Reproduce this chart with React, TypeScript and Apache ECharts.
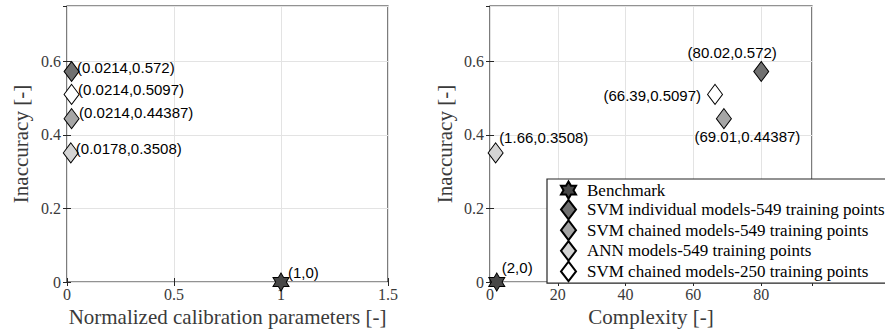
import React, { useEffect, useRef } from 'react';
import * as echarts from 'echarts';

const seriesNames = [
  'Benchmark',
  'SVM individual models-549 training points',
  'SVM chained models-549 training points',
  'ANN models-549 training points',
  'SVM chained models-250 training points',
];
const calibParams = [1, 0.0214, 0.0214, 0.0178, 0.0214];
const complexity = [2, 80.02, 69.01, 1.66, 66.39];
const inaccuracy = [0, 0.572, 0.44387, 0.3508, 0.5097];

const fillColors = ['#474747', '#707070', '#a6a6a6', '#d4d4d4', '#ffffff'];
const HEX = 'path://M50 0 L64.43 25 L93.3 25 L78.87 50 L93.3 75 L64.43 75 L50 100 L35.57 75 L6.7 75 L21.13 50 L6.7 25 L35.57 25 Z';
const symbols = [HEX, 'diamond', 'diamond', 'diamond', 'diamond'];
const symbolSizes = [[16, 18], [15, 20], [15, 20], [15, 20], [15, 20]];

// label placement (align, offset) for left and right panels
const leftLabelLayout: [string, number, number][] = [
  ['left', 7, -10],
  ['left', 5.5, -4.5],
  ['left', 7.5, -6],
  ['left', 5, -4.5],
  ['left', 6.5, -4.5],
];
const rightLabelLayout: [string, number, number][] = [
  ['left', 5, -15],
  ['center', -29, -19.5],
  ['center', 23.5, 18],
  ['left', 3.5, -15.5],
  ['right', -14, 1.5],
];

const SERIF = "'Liberation Serif', 'Times New Roman', serif";
const SANS = "'Liberation Sans', Arial, sans-serif";
const TICK_COLOR = '#3a3a3a';

export default function App() {
  const ref = useRef<HTMLDivElement>(null);
  useEffect(() => {
    document.body.style.margin = '0';
    const chart = echarts.init(ref.current!, null, { renderer: 'svg' });

    const mkSeries = (panel: number) =>
      seriesNames.map((name, i) => {
        const x = panel === 0 ? calibParams[i] : complexity[i];
        const y = inaccuracy[i];
        const lay = panel === 0 ? leftLabelLayout[i] : rightLabelLayout[i];
        return {
          type: 'scatter',
          name,
          xAxisIndex: panel,
          yAxisIndex: panel,
          data: [[x, y]],
          symbol: symbols[i],
          symbolSize: symbolSizes[i],
          itemStyle: { color: fillColors[i], borderColor: '#000', borderWidth: 1, opacity: 1 },
          label: {
            show: true,
            position: 'inside',
            formatter: `(${x},${y})`,
            align: lay[0],
            verticalAlign: 'middle',
            offset: [lay[1], lay[2]],
            color: '#000',
            fontFamily: SANS,
            fontSize: 15,
            textBorderWidth: 0,
          },
          emphasis: { disabled: true },
          z: 3,
        };
      });

    const bottomX = (grid: number, max: number, interval: number, name: string) => ({
      type: 'value',
      gridIndex: grid,
      min: 0,
      max,
      interval,
      position: 'bottom',
      name,
      nameLocation: 'middle',
      nameGap: 17,
      nameTextStyle: { fontFamily: SERIF, fontSize: 21, color: TICK_COLOR },
      axisLine: { show: false },
      axisTick: { show: true, inside: true, length: 4, lineStyle: { color: '#262626' } },
      axisLabel: { fontFamily: SERIF, fontSize: 16, color: TICK_COLOR, margin: 4, showMaxLabel: max === 1.5 },
      splitLine: { show: true, lineStyle: { color: '#e3e3e3', width: 1 } },
    });
    const topX = (grid: number, max: number, interval: number) => ({
      type: 'value',
      gridIndex: grid,
      min: 0,
      max,
      interval,
      position: 'top',
      axisLine: { show: false },
      axisTick: { show: true, inside: true, length: 4, lineStyle: { color: '#262626' } },
      axisLabel: { show: false },
      splitLine: { show: false },
    });
    const leftY = (grid: number, gap: number) => ({
      type: 'value',
      gridIndex: grid,
      min: 0,
      max: 0.75,
      interval: 0.2,
      position: 'left',
      name: 'Inaccuracy [-]',
      nameLocation: 'middle',
      nameGap: gap,
      nameTextStyle: { fontFamily: SERIF, fontSize: 21, color: TICK_COLOR },
      axisLine: { show: false },
      axisTick: { show: true, inside: true, length: 4, lineStyle: { color: '#262626' } },
      axisLabel: { fontFamily: SERIF, fontSize: 16, color: TICK_COLOR, margin: 6, showMaxLabel: false },
      splitLine: { show: true, lineStyle: { color: '#e3e3e3', width: 1 } },
    });
    const rightY = (grid: number) => ({
      type: 'value',
      gridIndex: grid,
      min: 0,
      max: 0.75,
      interval: 0.2,
      position: 'right',
      axisLine: { show: false },
      axisTick: { show: true, inside: true, length: 4, lineStyle: { color: '#262626' } },
      axisLabel: { show: false },
      splitLine: { show: false },
    });

    chart.setOption({
      animation: false,
      backgroundColor: '#ffffff',
      grid: [
        { left: 67, top: 6, width: 321, height: 276, show: true, borderColor: '#262626', borderWidth: 1.2, backgroundColor: 'transparent' },
        { left: 490, top: 6, width: 322, height: 276, show: true, borderColor: '#262626', borderWidth: 1.2, backgroundColor: 'transparent' },
      ],
      xAxis: [
        bottomX(0, 1.5, 0.5, 'Normalized calibration parameters [-]'),
        bottomX(1, 95, 20, 'Complexity [-]'),
        topX(0, 1.5, 0.5),
        topX(1, 95, 20),
      ],
      yAxis: [leftY(0, 36), leftY(1, 35), rightY(0), rightY(1)],
      legend: {
        show: true,
        orient: 'vertical',
        left: 547,
        top: 179,
        itemWidth: 15,
        itemHeight: 19.6,
        itemGap: -1,
        padding: [1.5, 10, 1, 13],
        backgroundColor: '#ffffff',
        borderColor: '#262626',
        borderWidth: 1.2,
        borderRadius: 0,
        selectedMode: false,
        data: seriesNames,
        textStyle: { fontFamily: SERIF, fontSize: 17, lineHeight: 19, color: '#000', padding: [0, 0, 0, 6] },
        z: 10,
      },
      series: [...mkSeries(0), ...mkSeries(1)],
    });
    return () => chart.dispose();
  }, []);
  return <div ref={ref} style={{ width: 885, height: 336 }} />;
}
